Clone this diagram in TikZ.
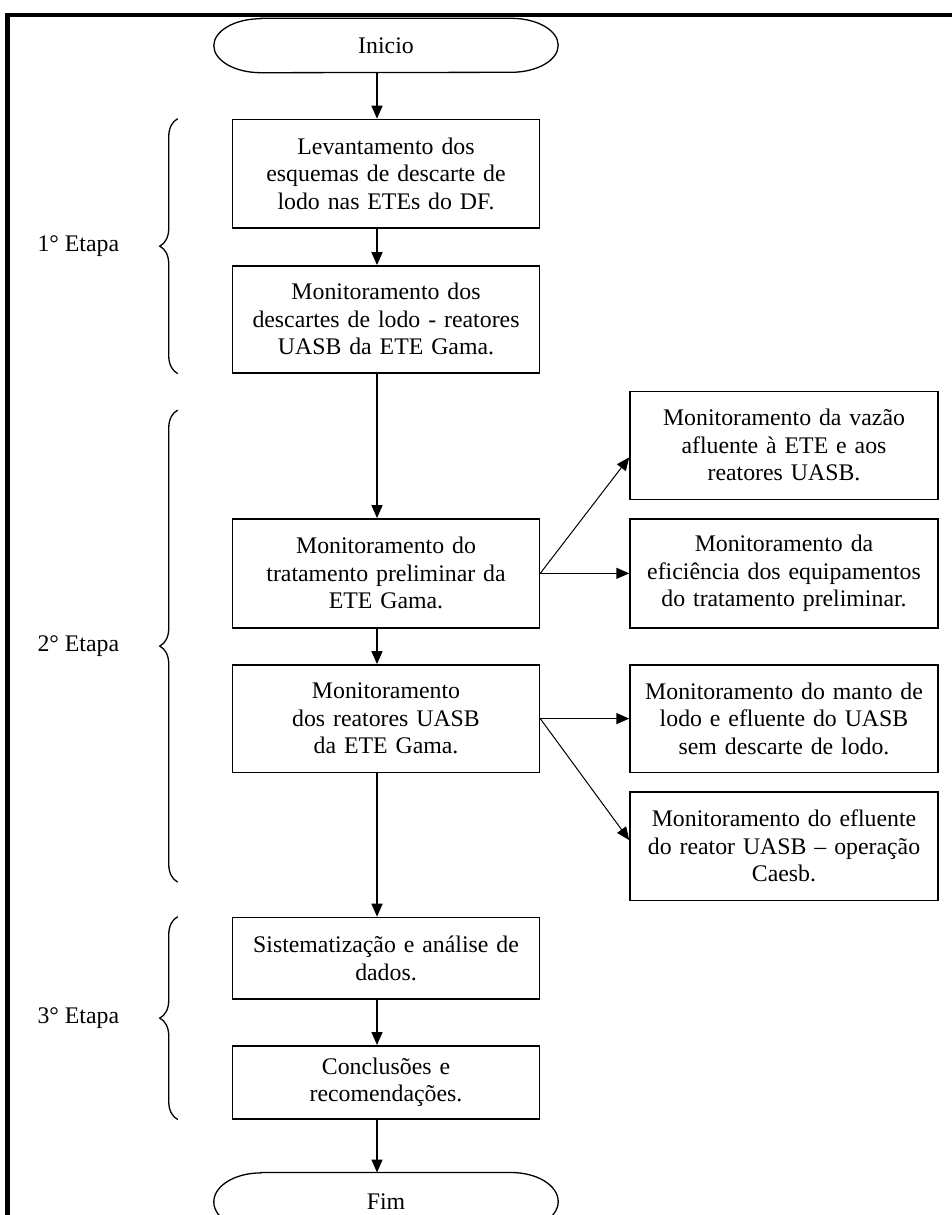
\documentclass[tikz,border=0pt]{standalone}
\usepackage{fontspec}
\setmainfont{Liberation Serif}
\usetikzlibrary{positioning}
\usetikzlibrary{calc}
\usetikzlibrary{arrows.meta}
\usetikzlibrary{decorations.pathreplacing}
\tikzset{caixa/.style={draw,line width=1.5pt,minimum width=307pt,text width=295pt,align=center,inner sep=6pt}}
\tikzset{lateral/.style={caixa,minimum width=308pt,text width=296pt}}
\tikzset{terminal/.style={minimum width=250pt,inner sep=0pt}}
\tikzset{seta/.style={-{Triangle[length=13pt,width=11pt]},line width=1.5pt}}
\tikzset{chave/.style={decorate,decoration={brace,amplitude=18pt},line width=1.3pt}}
\tikzset{etapa/.style={inner sep=0pt}}
\newcommand{\bordaterminal}[2]{\draw[line width=1.3pt] (#1.north west) -- (#1.north east) arc[start angle=90,end angle=-90,x radius=47pt,y radius=#2] -- (#1.south west) arc[start angle=270,end angle=90,x radius=47pt,y radius=#2] -- cycle;}

\begin{document}
\begin{tikzpicture}[x=1pt,y=1pt,font=\fontsize{23.8}{27.5}\selectfont]
    \useasboundingbox (0,0) rectangle (951,-1215);
    \draw[line width=4.5pt] (7.5,-1240) -- (7.5,-15) -- (970,-15);
    \coordinate (eixo) at (377,0);
    \node [terminal,minimum height=54pt] (ini) at (386,-45.5) {Inicio};
    \bordaterminal{ini}{27pt}
    \node [caixa,minimum height=108.4pt,below=46pt of ini] (lev) {Levantamento dos\\esquemas de descarte de\\lodo nas ETEs do DF.};
    \node [caixa,minimum height=107pt,below=36.5pt of lev] (desc) {Monitoramento dos\\descartes de lodo - reatores\\UASB da ETE Gama.};
    \node [caixa,minimum height=109pt,below=144.5pt of desc] (trat) {Monitoramento do\\tratamento preliminar da\\ETE Gama.};
    \node [caixa,minimum height=107.5pt,below=35.5pt of trat] (reat) {Monitoramento\\dos reatores UASB\\da ETE Gama.};
    \node [caixa,minimum height=81.5pt,below=143.6pt of reat] (sist) {Sistematização e análise de\\dados.};
    \node [caixa,minimum height=73pt,below=45.3pt of sist] (conc) {Conclusões e\\recomendações.};
    \node [terminal,minimum height=58pt,below=53pt of conc] (fim) {Fim};
    \bordaterminal{fim}{29pt}
    \node [lateral,minimum height=109pt,right=89pt of trat] (efic) {Monitoramento da\\eficiência dos equipamentos\\do tratamento preliminar.};
    \node [lateral,minimum height=108pt,above=18pt of efic] (vazao) {Monitoramento da vazão\\afluente à ETE e aos\\reatores UASB.};
    \node [lateral,minimum height=107.5pt,right=89pt of reat] (manto) {Monitoramento do manto de\\lodo e efluente do UASB\\sem descarte de lodo.};
    \node [lateral,minimum height=108.5pt,below=18pt of manto] (eflu) {Monitoramento do efluente\\do reator UASB -- operação\\Caesb.};
    \draw[seta] (ini.south -| eixo) -- (lev.north -| eixo);
    \draw[seta] (lev.south -| eixo) -- (desc.north -| eixo);
    \draw[seta] (desc.south -| eixo) -- (trat.north -| eixo);
    \draw[seta] (trat.south -| eixo) -- (reat.north -| eixo);
    \draw[seta] (reat.south -| eixo) -- (sist.north -| eixo);
    \draw[seta] (sist.south -| eixo) -- (conc.north -| eixo);
    \draw[seta] (conc.south -| eixo) -- (fim.north -| eixo);
    \draw[seta] (trat.east) -- (efic.west);
    \draw[seta,line width=1pt] (trat.east) -- ([yshift=-12pt]vazao.west);
    \draw[seta] (reat.east) -- (manto.west);
    \draw[seta,line width=1pt] (reat.east) -- ([yshift=6pt]eflu.west);
    \draw[chave] ([xshift=-54pt]desc.south west) -- node[etapa,left=58pt] {1° Etapa} ([xshift=-54pt]lev.north west);
    \draw[chave] ([xshift=-54pt,yshift=34.6pt]sist.north west) -- node[etapa,left=58pt] {2° Etapa} ([xshift=-54pt,yshift=-36.5pt]desc.south west);
    \draw[chave] ([xshift=-54pt]conc.south west) -- node[etapa,left=58pt] {3° Etapa} ([xshift=-54pt]sist.north west);
\end{tikzpicture}
\end{document}
